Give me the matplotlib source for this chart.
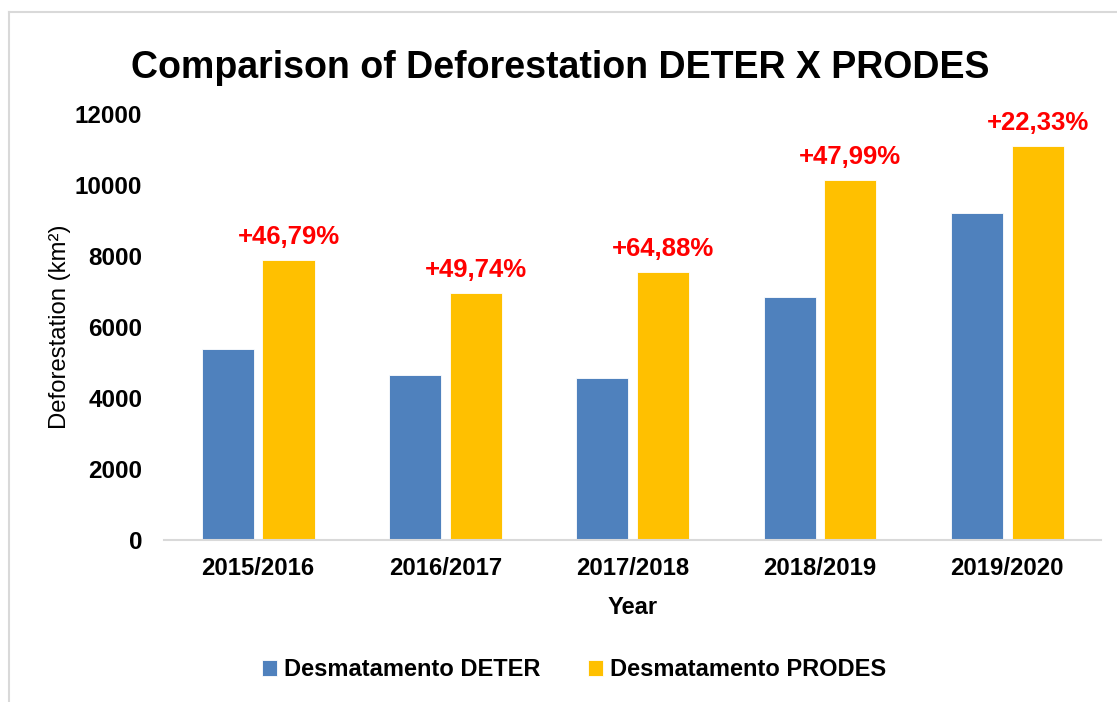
import matplotlib
matplotlib.use("Agg")
import matplotlib.pyplot as plt
from matplotlib.lines import Line2D
import numpy as np

plt.rcParams['font.family'] = ['Liberation Sans', 'DejaVu Sans']

years = ["2015/2016", "2016/2017", "2017/2018", "2018/2019", "2019/2020"]
deter = [5377, 4639, 4571, 6845, 9211]
prodes = [7893, 6947, 7536, 10129, 11088]
pct_labels = ["+46,79%", "+49,74%", "+64,88%", "+47,99%", "+22,33%"]

blue = "#4F81BD"
gold = "#FFC000"
grey = "#D9D9D9"

W, H = 1117, 702
fig = plt.figure(figsize=(W / 100, H / 100), dpi=100)
ax = fig.add_axes([164.5 / W, (H - 540) / H, 936.5 / W, (540 - 114) / H])

x = np.arange(len(years))
w = 0.278
off = 0.162
ax.bar(x - off, deter, w, color=blue, edgecolor="white", linewidth=0.6,
       label="Desmatamento DETER")
b2 = ax.bar(x + off, prodes, w, color=gold, edgecolor="white", linewidth=0.6,
            label="Desmatamento PRODES")

for rect, txt in zip(b2, pct_labels):
    ax.annotate(txt, (rect.get_x() + rect.get_width() / 2, rect.get_height()),
                xytext=(0, 8), textcoords="offset points", ha="center", va="bottom",
                color="red", fontsize=18.5, fontweight="bold")

ax.set_xlim(-0.5, 4.5)
ax.set_ylim(0, 12000)
ax.set_yticks(range(0, 12001, 2000))
ax.set_xticks(x)
ax.set_xticklabels(years)
for s in ["top", "right", "left"]:
    ax.spines[s].set_visible(False)
ax.spines["bottom"].set_color(grey)
ax.spines["bottom"].set_linewidth(1.5)
ax.tick_params(axis="y", length=0, pad=16, labelsize=17.5)
ax.tick_params(axis="x", length=0, pad=12, labelsize=17.2)
for lab in ax.get_xticklabels() + ax.get_yticklabels():
    lab.set_fontweight("bold")

ax.set_ylabel("Deforestation (km²)", fontsize=17.2, labelpad=3)
ax.set_xlabel("Year", fontsize=17, fontweight="bold", labelpad=12)
fig.text(560 / W, (H - 68) / H, "Comparison of Deforestation DETER X PRODES",
         ha="center", va="center", fontsize=27, fontweight="bold")

fig.legend(loc="center", bbox_to_anchor=(574 / W, (H - 670) / H), ncol=2,
           frameon=False, prop={"size": 17, "weight": "bold"},
           handlelength=0.65, handleheight=0.65, handletextpad=0.3,
           columnspacing=2.0)

# light frame around the chart area
fig.add_artist(Line2D([8.5 / W, 8.5 / W], [0, (H - 12) / H], color=grey, lw=1.5))
fig.add_artist(Line2D([8.5 / W, 1], [(H - 12) / H, (H - 12) / H], color=grey, lw=1.5))

fig.savefig("out.png", dpi=100)
